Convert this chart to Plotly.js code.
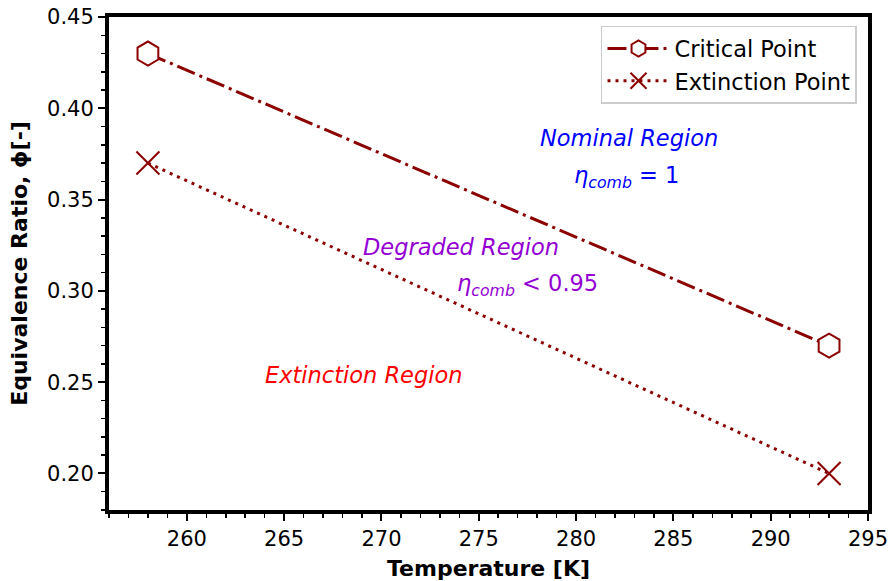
<!DOCTYPE html>
<html>
<head>
<meta charset="utf-8">
<script src="https://cdn.plot.ly/plotly-3.0.1.min.js"></script>
<style>html,body{margin:0;padding:0;background:#fff;}#chart{width:889px;height:581px;}</style>
</head>
<body>
<div id="chart"></div>
<script>
// Data
const temperature = [258, 293];
const criticalPhi = [0.43, 0.27];
const extinctionPhi = [0.37, 0.20];
const seriesNames = ["Critical Point", "Extinction Point"];
const xTickVals = [260, 265, 270, 275, 280, 285, 290, 295];
const yTickVals = [0.20, 0.25, 0.30, 0.35, 0.40, 0.45];

const regionLabels = ["<i>Nominal Region</i>", "<i>η</i><sub><i>comb</i></sub> = 1",
  "<i>Degraded Region</i>", "<i>η</i><sub><i>comb</i></sub> &lt; 0.95", "<i>Extinction Region</i>"];
const regionX = [282.7, 282.6, 274.1, 277.5, 269.1];
const regionY = [0.384, 0.3625, 0.324, 0.303, 0.254];
const regionColors = ["#0000ff", "#0000ff", "#9400d3", "#9400d3", "#ff0000"];

const dark = "#8b0000";
const font = "DejaVu Sans, Verdana, sans-serif";

const traces = [
  {
    x: temperature, y: criticalPhi, name: seriesNames[0], mode: "lines+markers",
    line: {color: dark, width: 3, dash: "19px,5px,3px,5px"},
    marker: {symbol: "hexagon", size: 24, color: "#ffffff", line: {color: dark, width: 2}}
  },
  {
    x: temperature, y: extinctionPhi, name: seriesNames[1], mode: "lines+markers",
    line: {color: dark, width: 3, dash: "3px,5px"},
    marker: {symbol: "x-thin-open", size: 23, color: dark, line: {color: dark, width: 2}}
  }
];

const annotations = regionLabels.map((t, i) => ({
  x: regionX[i], y: regionY[i], xref: "x", yref: "y", text: t, showarrow: false,
  font: {family: font, size: 22.5, color: regionColors[i]}, xanchor: "center", yanchor: "middle"
}));

const layout = {
  width: 889, height: 581,
  margin: {l: 109, r: 21, t: 17, b: 71},
  paper_bgcolor: "#fff", plot_bgcolor: "#fff",
  font: {family: font, color: "#000"},
  showlegend: true,
  legend: {
    x: 0.9855, y: 0.982, xanchor: "right", yanchor: "top", itemwidth: 62,
    bgcolor: "rgba(255,255,255,0.8)", bordercolor: "#cccccc", borderwidth: 1.5,
    font: {family: font, size: 22.5, color: "#000"}
  },
  xaxis: {
    range: [256, 295], tickvals: xTickVals, ticks: "outside", ticklen: 7, tickwidth: 2, tickcolor: "#000",
    minor: {dtick: 1, ticks: "outside", ticklen: 4, tickwidth: 1.5, tickcolor: "#000"},
    showgrid: false, zeroline: false, showline: true, linecolor: "#000", linewidth: 4, mirror: true,
    tickfont: {family: font, size: 21, color: "#000"},
    title: {text: "<b>Temperature [K]</b>", font: {family: font, size: 22, color: "#000"}, standoff: 12}
  },
  yaxis: {
    range: [0.18, 0.45], tickvals: yTickVals, tickformat: ".2f", ticks: "outside", ticklen: 7, tickwidth: 2, tickcolor: "#000",
    minor: {dtick: 0.01, ticks: "outside", ticklen: 4, tickwidth: 1.5, tickcolor: "#000"},
    showgrid: false, zeroline: false, showline: true, linecolor: "#000", linewidth: 4, mirror: true,
    tickfont: {family: font, size: 21, color: "#000"},
    title: {text: "<b>Equivalence Ratio, ϕ[-]</b>", font: {family: font, size: 22, color: "#000"}, standoff: 14}
  },
  annotations: annotations
};

Plotly.newPlot("chart", traces, layout, {displayModeBar: false, staticPlot: true});
</script>
</body>
</html>
